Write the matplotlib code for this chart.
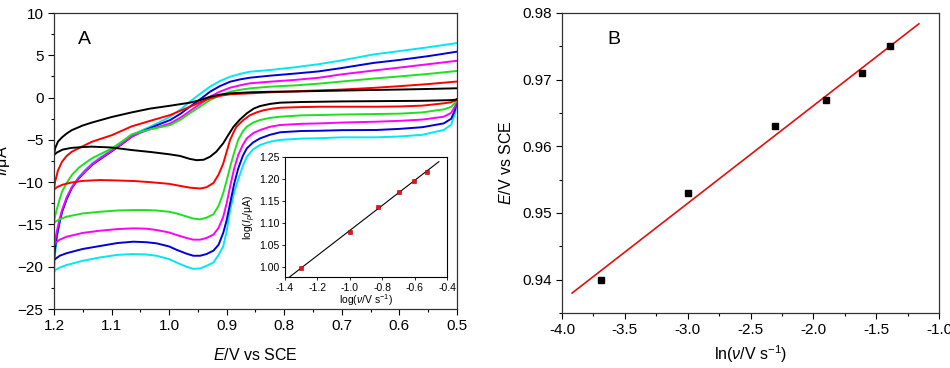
import matplotlib
matplotlib.use('Agg')
import matplotlib.pyplot as plt
from matplotlib.ticker import MultipleLocator
import numpy as np

plt.rcParams['font.family'] = ['Liberation Sans', 'DejaVu Sans']
plt.rcParams['mathtext.fontset'] = 'custom'
plt.rcParams['mathtext.rm'] = 'Liberation Sans'
plt.rcParams['mathtext.it'] = 'Liberation Sans:italic'

# ---- panel A: cyclic voltammograms (E in V, I in uA) ----
E_blk_lo = [1.2, 1.195, 1.185, 1.17, 1.15, 1.134, 1.10, 1.065, 1.03, 1.0, 0.981, 0.964, 0.952, 0.94, 0.929,
            0.918, 0.906, 0.897, 0.888, 0.877, 0.865, 0.853, 0.842, 0.825, 0.807, 0.77, 0.738, 0.70, 0.64,
            0.60, 0.56, 0.523, 0.51, 0.503, 0.5]
I_blk_lo = [-6.8, -6.5, -6.15, -5.95, -5.85, -5.8, -5.9, -6.2, -6.45, -6.7, -6.9, -7.25, -7.4, -7.35, -7.0,
            -6.4, -5.4, -4.4, -3.44, -2.6, -1.86, -1.3, -1.0, -0.75, -0.6, -0.52, -0.49, -0.45, -0.42,
            -0.4, -0.38, -0.32, -0.3, -0.25, -0.2]

E_red_lo = [1.2, 1.195, 1.185, 1.17, 1.15, 1.12, 1.09, 1.06, 1.033, 1.0, 0.98, 0.964, 0.946, 0.935, 0.923,
            0.914, 0.906, 0.9, 0.894, 0.888, 0.883, 0.871, 0.86, 0.848, 0.836, 0.82, 0.807, 0.77, 0.738,
            0.70, 0.64, 0.60, 0.56, 0.523, 0.51, 0.503, 0.5]
I_red_lo = [-10.9, -10.6, -10.3, -10.05, -9.85, -9.75, -9.8, -9.87, -10.0, -10.2, -10.45, -10.65, -10.75, -10.6, -10.1,
            -9.1, -7.8, -6.4, -5.0, -4.1, -3.44, -2.65, -2.1, -1.75, -1.5, -1.3, -1.2, -1.12, -1.08,
            -1.08, -1.08, -1.05, -0.95, -0.68, -0.55, -0.35, -0.2]

E_blk_up = [1.2, 1.198, 1.193, 1.186, 1.178, 1.169, 1.15, 1.134, 1.10, 1.065, 1.033, 0.998, 0.964, 0.946,
            0.929, 0.912, 0.894, 0.86, 0.825, 0.78, 0.74, 0.70, 0.645, 0.60, 0.55, 0.5]
I_blk_up = [-6.8, -6.0, -5.2, -4.7, -4.25, -3.85, -3.3, -2.95, -2.3, -1.75, -1.3, -0.96, -0.6, -0.3,
            0.1, 0.35, 0.5, 0.62, 0.69, 0.72, 0.78, 0.83, 0.9, 0.95, 1.02, 1.1]

E_red_up = [1.2, 1.198, 1.193, 1.186, 1.178, 1.169, 1.15, 1.134, 1.099, 1.065, 1.033, 0.998, 0.964, 0.946,
            0.929, 0.912, 0.894, 0.86, 0.825, 0.78, 0.74, 0.70, 0.645, 0.60, 0.55, 0.5]
I_red_up = [-10.9, -9.95, -8.6, -7.58, -6.9, -6.4, -5.75, -5.22, -4.43, -3.4, -2.75, -2.06, -1.08, -0.55,
            -0.09, 0.2, 0.39, 0.5, 0.62, 0.75, 0.85, 0.95, 1.15, 1.35, 1.6, 1.9]

# lower (cathodic) branches of the four fastest scans, one potential grid
E_grp_lo = [1.2, 1.198, 1.19, 1.178, 1.15, 1.12, 1.09, 1.062, 1.04, 1.022, 1.0, 0.987, 0.97, 0.958, 0.946,
            0.935, 0.923, 0.914, 0.906, 0.9, 0.894, 0.887, 0.88, 0.872, 0.865, 0.854, 0.842, 0.825, 0.807,
            0.77, 0.738, 0.70, 0.64, 0.60, 0.56, 0.523, 0.51, 0.503, 0.5]
I_grn_lo = [-14.9, -14.68, -14.4, -14.08, -13.7, -13.5, -13.35, -13.3, -13.3, -13.35, -13.5, -13.7, -14.05, -14.3, -14.4,
            -14.2, -13.8, -12.8, -11.3, -9.8, -8.2, -6.5, -5.0, -4.0, -3.44, -2.95, -2.65, -2.4, -2.26,
            -2.1, -2.06, -2.0, -1.94, -1.9, -1.75, -1.39, -1.1, -0.6, -0.2]
I_mag_lo = [-17.5, -17.2, -16.8, -16.45, -16.0, -15.74, -15.55, -15.46, -15.5, -15.66, -15.95, -16.25, -16.6, -16.8, -16.8,
            -16.6, -16.2, -15.4, -14.1, -12.5, -10.5, -8.4, -6.8, -5.6, -4.82, -4.2, -3.84, -3.45, -3.24,
            -3.1, -3.05, -2.95, -2.85, -2.75, -2.6, -2.26, -1.8, -1.0, -0.2]
I_blu_lo = [-19.2, -19.1, -18.7, -18.4, -17.9, -17.55, -17.2, -17.04, -17.1, -17.23, -17.6, -18.0, -18.45, -18.7, -18.7,
            -18.5, -18.1, -17.4, -16.0, -14.5, -12.5, -10.2, -8.4, -6.9, -6.0, -5.3, -4.82, -4.4, -4.1,
            -3.95, -3.92, -3.85, -3.83, -3.7, -3.5, -3.05, -2.5, -1.4, -0.2]
I_cyn_lo = [-20.7, -20.4, -20.1, -19.8, -19.3, -18.9, -18.6, -18.5, -18.55, -18.7, -19.1, -19.5, -20.0, -20.25, -20.2,
            -19.9, -19.5, -18.6, -17.6, -15.8, -13.3, -11.2, -9.7, -8.1, -7.0, -6.1, -5.6, -5.22, -5.0,
            -4.85, -4.8, -4.7, -4.7, -4.6, -4.4, -3.83, -3.2, -1.8, -0.2]

# upper (anodic) branches of the four fastest scans, one potential grid
E_grp_up = [1.2, 1.198, 1.195, 1.19, 1.186, 1.178, 1.169, 1.157, 1.145, 1.134, 1.12, 1.099, 1.082, 1.065, 1.05,
            1.033, 1.015, 0.998, 0.98, 0.964, 0.946, 0.929, 0.912, 0.894, 0.877, 0.86, 0.825, 0.78, 0.74,
            0.70, 0.645, 0.60, 0.55, 0.50]
I_grn_up = [-14.7, -14.0, -13.2, -12.0, -11.13, -10.1, -9.16, -8.3, -7.7, -7.18, -6.7, -6.0, -5.2, -4.35, -4.05,
            -3.75, -3.5, -3.24, -2.6, -1.86, -1.05, -0.29, 0.25, 0.69, 0.92, 1.09, 1.29, 1.45, 1.65,
            1.9, 2.25, 2.5, 2.8, 3.15]
I_mag_up = [-17.5, -16.9, -15.8, -14.3, -13.3, -11.8, -10.6, -9.5, -8.65, -7.9, -7.2, -6.25, -5.45, -4.6, -4.15,
            -3.75, -3.4, -3.05, -2.35, -1.59, -0.75, 0.1, 0.7, 1.17, 1.45, 1.69, 1.88, 2.1, 2.35,
            2.75, 3.2, 3.55, 3.95, 4.35]
I_blu_up = [-19.2, -17.8, -16.3, -14.6, -13.5, -12.0, -10.7, -9.55, -8.7, -7.97, -7.3, -6.32, -5.5, -4.63, -4.1,
            -3.6, -3.1, -2.65, -1.9, -1.08, -0.2, 0.69, 1.35, 1.88, 2.15, 2.35, 2.59, 2.85, 3.1,
            3.5, 4.1, 4.45, 4.9, 5.43]
I_cyn_up = [-20.7, -18.5, -16.6, -14.8, -13.6, -12.0, -10.6, -9.4, -8.5, -7.8, -7.1, -6.1, -5.3, -4.45, -3.95,
            -3.44, -2.85, -2.26, -1.4, -0.49, 0.45, 1.29, 1.95, 2.47, 2.8, 3.06, 3.26, 3.6, 3.95,
            4.4, 5.1, 5.5, 5.95, 6.45]

# inset: log(Ip) vs log(v)
log_v = [-1.301, -1.0, -0.824, -0.699, -0.602, -0.523]
log_ip = [0.997, 1.080, 1.137, 1.170, 1.196, 1.216]

# ---- panel B: peak potential vs ln(v) ----
ln_v = [-3.689, -2.996, -2.303, -1.897, -1.609, -1.386]
E_peak = [0.940, 0.953, 0.963, 0.967, 0.971, 0.975]

fig = plt.figure(figsize=(9.5, 3.68), dpi=100)
axA = fig.add_axes([0.0568, 0.1603, 0.4242, 0.8043])
axB = fig.add_axes([0.5916, 0.1495, 0.3968, 0.8152])
axI = fig.add_axes([0.300, 0.2473, 0.1705, 0.3261])

lw = 1.4
curves = [
    ('black', E_blk_up, I_blk_up, E_blk_lo, I_blk_lo),
    ('#ff0000', E_red_up, I_red_up, E_red_lo, I_red_lo),
    ('#1ee01e', E_grp_up, I_grn_up, E_grp_lo, I_grn_lo),
    ('#ff00ff', E_grp_up, I_mag_up, E_grp_lo, I_mag_lo),
    ('#0000d8', E_grp_up, I_blu_up, E_grp_lo, I_blu_lo),
    ('#00e8f0', E_grp_up, I_cyn_up, E_grp_lo, I_cyn_lo),
]
for color, eu, iu, el, il in curves[::-1]:
    axA.plot(el, il, color=color, lw=lw, solid_joinstyle='round')
    axA.plot(eu, iu, color=color, lw=lw, solid_joinstyle='round')

axA.set_xlim(1.2, 0.5)
axA.set_ylim(-25, 10)
axA.xaxis.set_minor_locator(MultipleLocator(0.05))
axA.yaxis.set_major_locator(MultipleLocator(5))
axA.yaxis.set_minor_locator(MultipleLocator(2.5))
axA.set_xticks([1.2, 1.1, 1.0, 0.9, 0.8, 0.7, 0.6, 0.5])
axA.set_xticklabels(['1.2', '1.1', '1.0', '0.9', '0.8', '0.7', '0.6', '0.5'])
axA.set_xlabel('$E$/V vs SCE', fontsize=11.5, labelpad=10)
axA.set_ylabel('$I$/μA', fontsize=11.5)
axA.yaxis.set_label_coords(-0.104, 0.5)
axA.text(0.06, 0.91, 'A', transform=axA.transAxes, fontsize=14, ha='left', va='center')

# inset
xl = [-1.38, -0.45]
axI.plot(xl, np.polyval(np.polyfit(log_v, log_ip, 1), xl), color='black', lw=0.8)
axI.plot(log_v, log_ip, 's', color='#ee1010', mec='#a00000', mew=0.4, ms=3)
axI.set_xlim(-1.4, -0.4)
axI.set_ylim(0.977, 1.25)
axI.set_xticks([-1.4, -1.2, -1.0, -0.8, -0.6, -0.4])
axI.set_xticklabels(['-1.4', '-1.2', '-1.0', '-0.8', '-0.6', '-0.4'])
axI.set_yticks([1.00, 1.05, 1.10, 1.15, 1.20, 1.25])
axI.set_yticklabels(['1.00', '1.05', '1.10', '1.15', '1.20', '1.25'])
axI.tick_params(labelsize=7.5, length=2.5, width=0.6, pad=1.5)
axI.set_xlabel(r'log($\nu$/V s$^{-1}$)', fontsize=7.5, labelpad=0)
axI.set_ylabel(r'log($I_p$/μA)', fontsize=7.5, labelpad=1)
for s in axI.spines.values():
    s.set_linewidth(0.8)

# panel B
xfit = [-3.92, -1.16]
axB.plot(xfit, np.polyval(np.polyfit(ln_v, E_peak, 1), xfit), color='#e01010', lw=1.2)
axB.plot(ln_v, E_peak, 's', color='black', ms=4.5)
axB.set_xlim(-4.0, -1.0)
axB.set_ylim(0.935, 0.98)
axB.xaxis.set_minor_locator(MultipleLocator(0.25))
axB.yaxis.set_minor_locator(MultipleLocator(0.005))
axB.set_xticks([-4.0, -3.5, -3.0, -2.5, -2.0, -1.5, -1.0])
axB.set_xticklabels(['-4.0', '-3.5', '-3.0', '-2.5', '-2.0', '-1.5', '-1.0'])
axB.set_yticks([0.94, 0.95, 0.96, 0.97, 0.98])
axB.set_yticklabels(['0.94', '0.95', '0.96', '0.97', '0.98'])
axB.set_xlabel(r'ln($\nu$/V s$^{-1}$)', fontsize=11.5, labelpad=4)
axB.set_ylabel('$E$/V vs SCE', fontsize=11.5, labelpad=6)
axB.text(0.12, 0.91, 'B', transform=axB.transAxes, fontsize=14, ha='left', va='center')

for ax in (axA, axB):
    ax.tick_params(which='major', labelsize=11, length=4, width=0.8, direction='out')
    ax.tick_params(which='minor', length=2.5, width=0.8, direction='out')
    for s in ax.spines.values():
        s.set_linewidth(0.9)
        s.set_color('#333333')

fig.savefig('out.png', dpi=100)
